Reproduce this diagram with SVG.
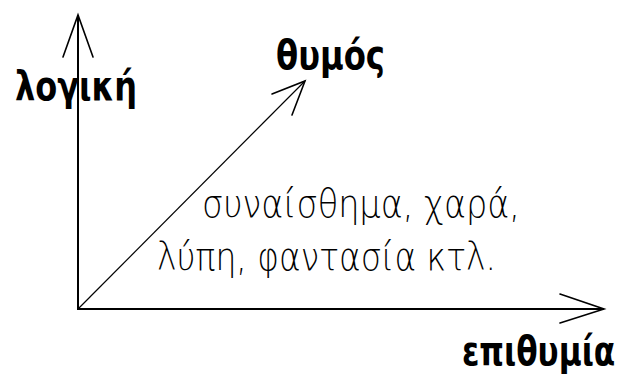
<svg xmlns="http://www.w3.org/2000/svg" width="621" height="379" viewBox="0 0 621 379">
<style>
.axis{stroke:#000;stroke-width:2;fill:none}
.diag{stroke:#000;stroke-width:1.2;fill:none}
.head{stroke:#000;stroke-width:1.6;fill:none;stroke-linecap:round}
.bold{font-family:"DejaVu Sans",sans-serif;font-weight:bold;font-size:40px;fill:#000}
.reg{font-family:"DejaVu Sans",sans-serif;font-weight:200;font-size:39px;fill:#000}
</style>
<rect width="621" height="379" fill="#fff"/>
<g id="connectors">
<line class="axis" x1="78" y1="309" x2="78" y2="15"/>
<path class="head" d="M63 57 L78 15 L93 57"/>
<line class="axis" x1="77" y1="309" x2="604" y2="309"/>
<path class="head" d="M560 294 L604 309 L560 323"/>
<line class="diag" x1="78" y1="309" x2="305" y2="81"/>
<path class="head" d="M272 94 L305 81 L292 115"/>
</g>
<g id="logiki"><text class="bold" x="15" y="100" textLength="122" lengthAdjust="spacingAndGlyphs">λογική</text></g>
<g id="thymos"><text class="bold" x="276" y="69" textLength="109" lengthAdjust="spacingAndGlyphs">θυμός</text></g>
<g id="epithymia"><text class="bold" transform="translate(462 365) scale(0.78 1)" x="0" y="0" font-size="38">επιθυμία</text></g>
<g id="label">
<text class="reg" x="202" y="217" textLength="318" lengthAdjust="spacingAndGlyphs">συναίσθημα, χαρά,</text>
<text class="reg" x="157" y="270" textLength="339" lengthAdjust="spacingAndGlyphs">λύπη, φαντασία κτλ.</text>
</g>
</svg>
